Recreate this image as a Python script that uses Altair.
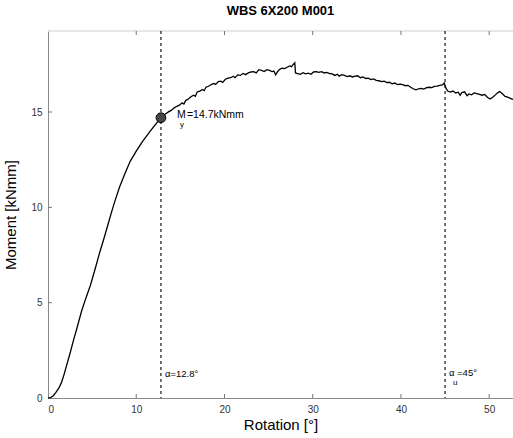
import altair as alt
import pandas as pd

# Measured moment-rotation curve: elastic rise ...
rise_rotation = [0, 0.3, 0.6, 0.9, 1.2, 1.5, 1.8, 2.1, 2.5, 2.9, 3.3, 3.8, 4.3, 4.8, 5.3,
                 5.9, 6.3, 6.8, 7.2, 7.6, 8.1, 8.7, 9.3, 10.0, 10.7, 11.5, 12.1, 12.8, 13.3]
rise_moment = [0, 0.02, 0.12, 0.3, 0.5, 0.78, 1.2, 1.7, 2.35, 3.05, 3.7, 4.55, 5.25, 5.9, 6.7,
               7.7, 8.3, 9.1, 9.75, 10.35, 11.05, 11.75, 12.4, 12.95, 13.45, 13.95, 14.3, 14.7, 14.9]

# ... and the plastic plateau
plateau_rotation = [
    13.7, 14.0, 14.3, 14.6, 14.9, 15.2, 15.4, 15.6, 15.9, 16.2,
    16.5, 16.7, 16.9, 17.2, 17.5, 17.7, 17.9, 18.2, 18.5, 18.8,
    19.0, 19.3, 19.6, 19.8, 20.1, 20.4, 20.7, 21.0, 21.2, 21.5,
    21.8, 22.1, 22.4, 22.7, 23.0, 23.3, 23.6, 23.9, 24.2, 24.5,
    24.8, 25.1, 25.4, 25.6, 25.8, 26.0, 26.2, 26.5, 26.8, 27.1,
    27.4, 27.6, 27.8, 27.97, 28.05, 28.3, 28.6, 28.9, 29.2, 29.5,
    29.8, 30.1, 30.4, 30.7, 31.0, 31.3, 31.6, 31.9, 32.2, 32.5,
    32.8, 33.0, 33.3, 33.6, 33.9, 34.2, 34.5, 34.8, 35.1, 35.4,
    35.7, 36.0, 36.3, 36.6, 36.9, 37.2, 37.5, 37.8, 38.1, 38.4,
    38.7, 39.0, 39.3, 39.6, 39.9, 40.2, 40.5, 40.8, 41.1, 41.4,
    41.7, 42.0, 42.3, 42.6, 42.9, 43.2, 43.5, 43.8, 44.1, 44.4,
    44.7, 44.9, 45.1, 45.3, 45.6, 45.9, 46.2, 46.5, 46.7, 46.9,
    47.2, 47.5, 47.7, 48.0, 48.3, 48.6, 48.9, 49.2, 49.5, 49.8,
    50.1, 50.4, 50.7, 51.0, 51.2, 51.5, 51.8, 52.1, 52.4, 52.7,
]
plateau_moment = [
    15.02, 15.1, 15.22, 15.3, 15.36, 15.48, 15.42, 15.6, 15.68, 15.8,
    15.88, 15.82, 16.05, 16.1, 16.18, 16.12, 16.3, 16.35, 16.44, 16.5,
    16.45, 16.6, 16.62, 16.55, 16.72, 16.78, 16.8, 16.88, 16.8, 16.95,
    16.92, 17.02, 16.96, 17.05, 17.1, 17.12, 17.05, 17.22, 17.18, 17.12,
    17.22, 17.18, 17.12, 17.15, 16.95, 17.1, 17.22, 17.3, 17.28, 17.35,
    17.42, 17.38, 17.5, 17.58, 17.05, 17.02, 16.98, 17.06, 17.0, 17.04,
    16.98, 17.1, 17.12, 17.08, 17.12, 17.05, 17.08, 17.02, 17.0, 16.92,
    16.98, 16.88, 16.96, 16.92, 16.86, 16.9, 16.84, 16.88, 16.9, 16.8,
    16.84, 16.76, 16.78, 16.7, 16.74, 16.66, 16.64, 16.6, 16.62, 16.54,
    16.56, 16.48, 16.52, 16.44, 16.46, 16.44, 16.38, 16.4, 16.3, 16.22,
    16.16, 16.22, 16.24, 16.2, 16.28, 16.3, 16.28, 16.34, 16.36, 16.4,
    16.42, 16.52, 16.25, 16.1, 16.05, 16.1, 16.0, 16.04, 15.88, 16.02,
    16.06, 15.86, 15.95, 15.9, 16.0, 15.96, 15.92, 15.88, 15.92, 15.78,
    15.68, 15.78, 15.9, 16.02, 16.08, 15.96, 15.82, 15.78, 15.72, 15.66,
]

# Characteristic values
alpha_y = 12.8
moment_y = 14.7
alpha_u = 45
x_ticks = [10, 20, 30, 40, 50]
y_ticks = [5, 10, 15]

W, H = 465, 367
FONT = "Liberation Sans"
x_scale = alt.Scale(domain=[0, 52.7], nice=False, zero=False)
y_scale = alt.Scale(domain=[0, 19.25], nice=False)

curve_df = pd.DataFrame({
    "rotation": rise_rotation + plateau_rotation,
    "moment": rise_moment + plateau_moment,
})

curve = alt.Chart(curve_df).mark_line(color="black", strokeWidth=1.3).encode(
    x=alt.X("rotation:Q", scale=x_scale,
            axis=alt.Axis(title="Rotation [°]", values=[0] + x_ticks, ticks=False,
                          domainColor="#8a8a8a", labelFontSize=10, labelColor="#333",
                          labelPadding=6, titleFontSize=15, titleFontWeight="normal",
                          titlePadding=3, titleColor="black", grid=False)),
    y=alt.Y("moment:Q", scale=y_scale,
            axis=alt.Axis(title="Moment [kNmm]", values=[0] + y_ticks, ticks=False,
                          domainColor="#8a8a8a", labelFontSize=10, labelColor="#333",
                          labelPadding=6, titleFontSize=15, titleFontWeight="normal",
                          titlePadding=12, titleColor="black", grid=False)),
)

limits = alt.Chart(pd.DataFrame({"a": [alpha_y, alpha_u]})).mark_rule(
    color="black", strokeDash=[3, 3], strokeWidth=1.1
).encode(x=alt.X("a:Q", scale=x_scale))

yield_pt = alt.Chart(pd.DataFrame({"a": [alpha_y], "m": [moment_y]})).mark_point(
    filled=True, size=95, color="#474747", stroke="black", strokeWidth=1, opacity=1
).encode(x=alt.X("a:Q", scale=x_scale), y=alt.Y("m:Q", scale=y_scale))

# Inside ticks on bottom, top and left edges
xt_df = pd.DataFrame({"t": x_ticks})
yt_df = pd.DataFrame({"t": y_ticks})
tick_style = dict(color="#777", strokeWidth=1)
bottom_ticks = alt.Chart(xt_df).mark_rule(**tick_style).encode(
    x=alt.X("t:Q", scale=x_scale), y=alt.value(H), y2=alt.value(H - 4))
top_ticks = alt.Chart(xt_df).mark_rule(**tick_style).encode(
    x=alt.X("t:Q", scale=x_scale), y=alt.value(0), y2=alt.value(4))
left_ticks = alt.Chart(yt_df).mark_rule(**tick_style).encode(
    y=alt.Y("t:Q", scale=y_scale), x=alt.value(0), x2=alt.value(4))
top_edge = alt.Chart(pd.DataFrame({"t": [0]})).mark_rule(color="#cfcfcf", strokeWidth=1).encode(
    x=alt.value(0), x2=alt.value(W), y=alt.value(0))


def label(text, xv, yv, dx=0, dy=0, size=10):
    return alt.Chart(pd.DataFrame({"x": [xv], "y": [yv], "s": [text]})).mark_text(
        align="left", baseline="middle", dx=dx, dy=dy, fontSize=size, font=FONT, color="black"
    ).encode(x=alt.X("x:Q", scale=x_scale), y=alt.Y("y:Q", scale=y_scale), text="s:N")


texts = [
    label("M", alpha_y, moment_y, dx=16, dy=-3, size=10.5),
    label("y", alpha_y, moment_y, dx=19, dy=7, size=8),
    label("=14.7kNmm", alpha_y, moment_y, dx=26, dy=-3, size=10.5),
    label("α=12.8°", alpha_y, 1.26, dx=4, size=9.5),
    label("α", alpha_u, 1.3, dx=4, size=9.5),
    label("u", alpha_u, 0.8, dx=8, size=8),
    label("=45°", alpha_u, 1.3, dx=12, size=9.5),
]

chart = alt.layer(
    top_edge, limits, curve, bottom_ticks, top_ticks, left_ticks, yield_pt, *texts
).properties(
    width=W, height=H,
    title=alt.TitleParams("WBS 6X200 M001", fontSize=13, font=FONT, fontWeight="bold",
                          anchor="middle", offset=12, color="black"),
    autosize=alt.AutoSizeParams(type="none"),
    padding={"left": 48, "top": 31, "right": 0, "bottom": 40},
).configure_view(stroke=None).configure_axis(labelFont=FONT, titleFont=FONT)

chart.save("out.html", embed_options={"renderer": "svg", "actions": False})
